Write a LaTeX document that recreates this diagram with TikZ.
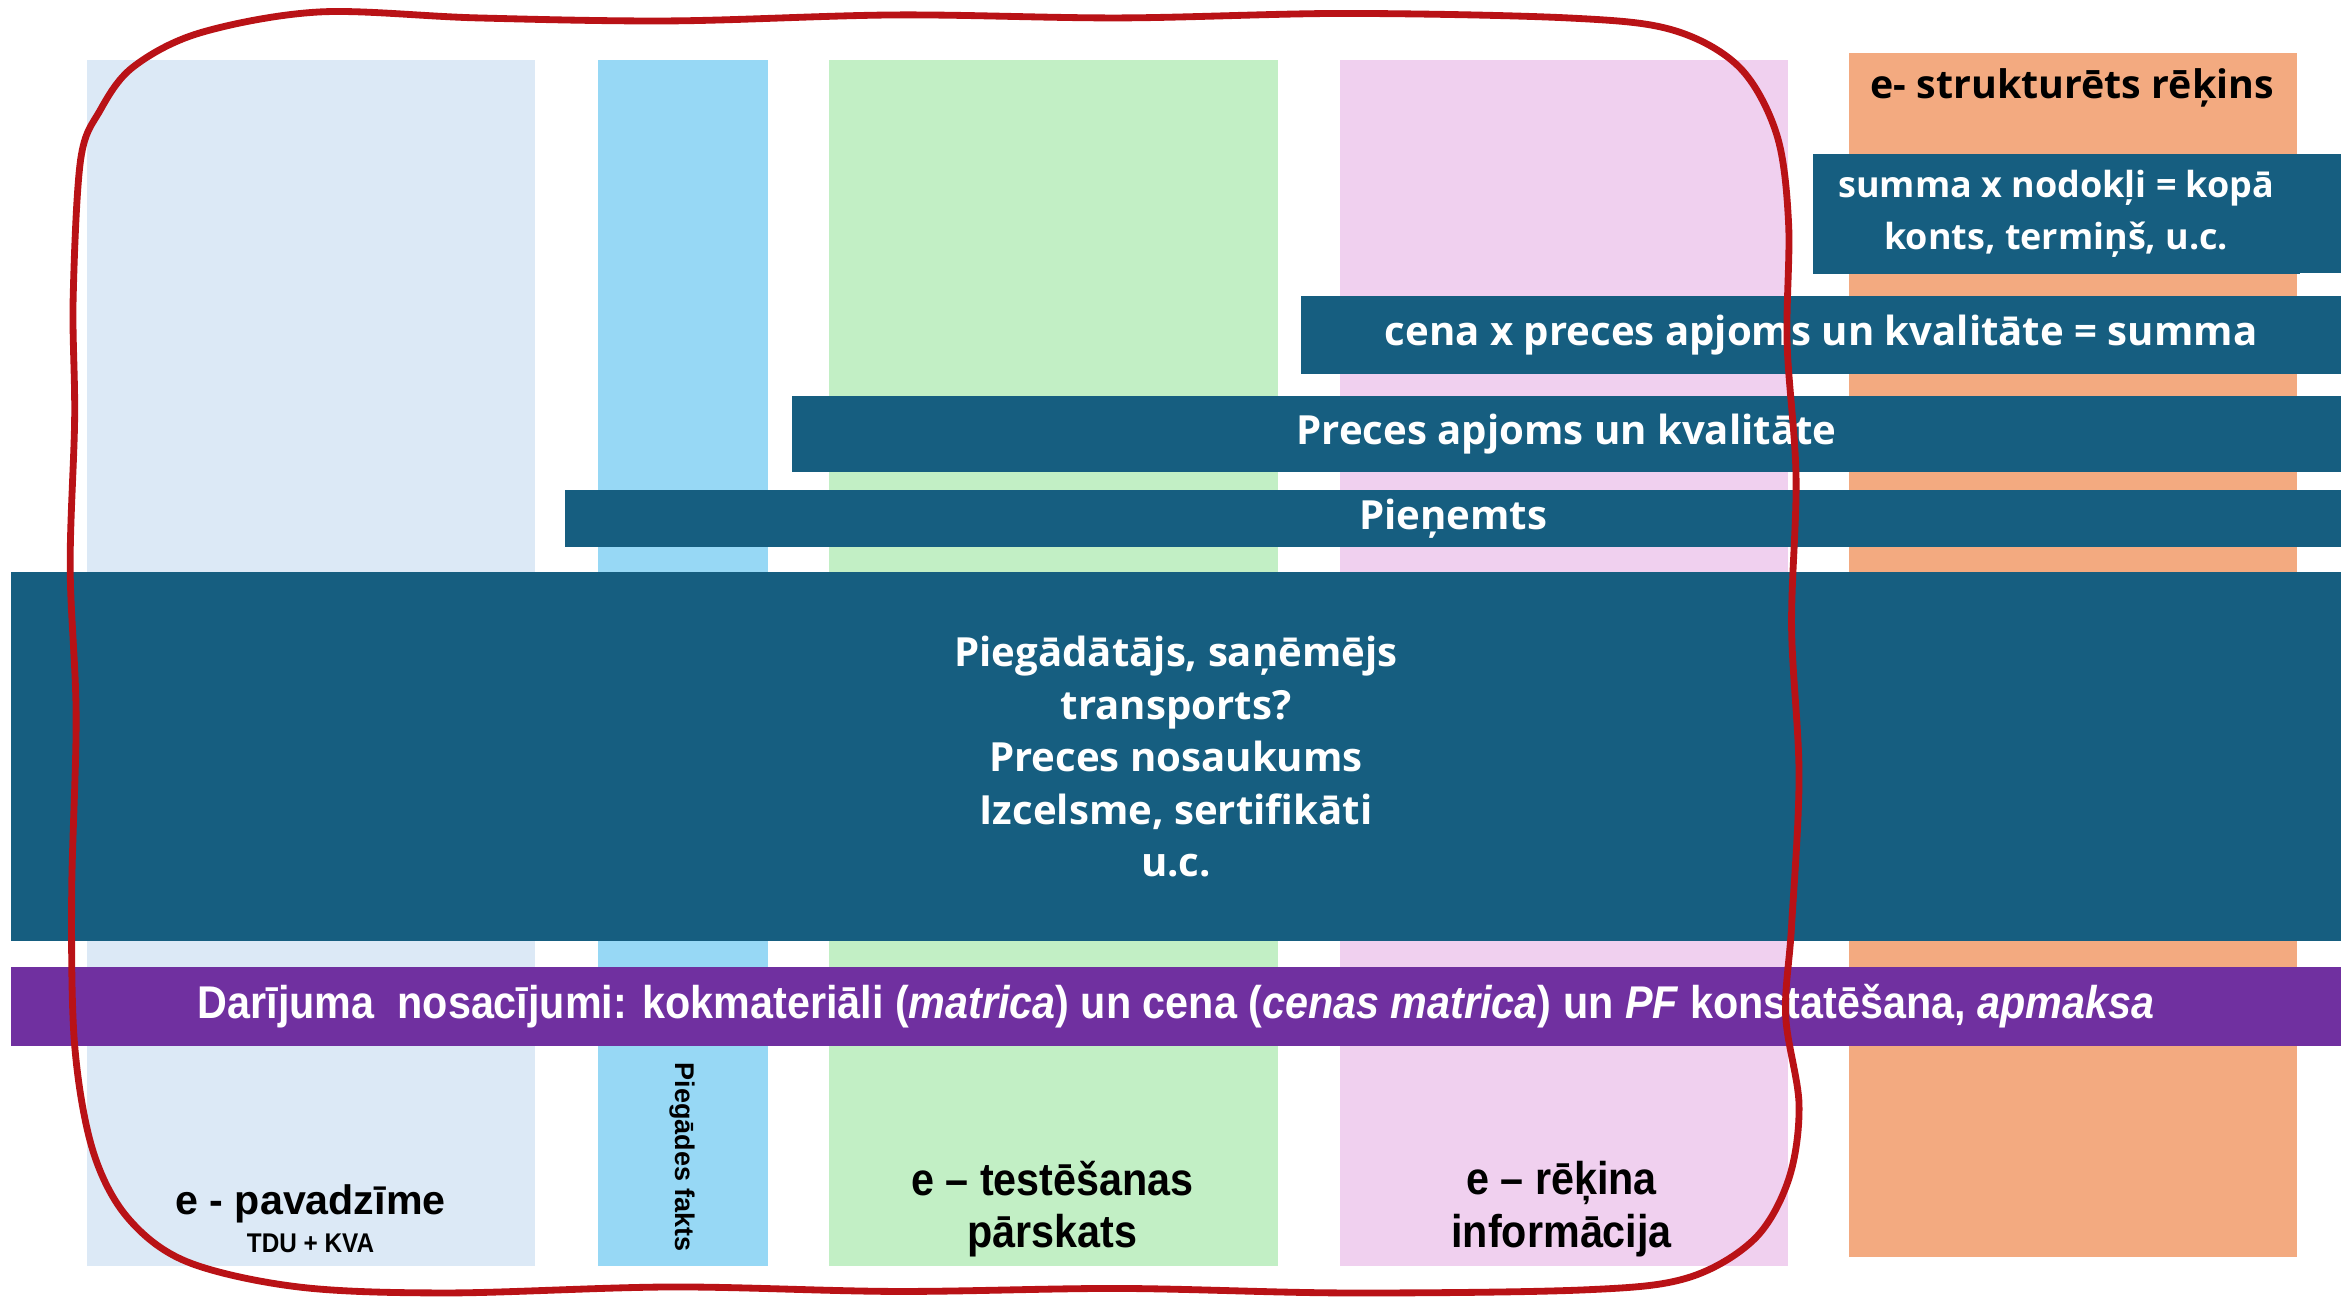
\documentclass[tikz,border=0pt]{standalone}
\usepackage{fontspec}
\setmainfont{Open Sans}
\newfontfamily\narrowfont[FakeStretch=0.9]{Liberation Sans}
\newfontfamily\arialfont{Liberation Sans}
\usetikzlibrary{positioning}
\definecolor{paleblue}{RGB}{220,233,246}
\definecolor{skyblue}{RGB}{151,216,245}
\definecolor{palegreen}{RGB}{194,239,197}
\definecolor{palepink}{RGB}{240,208,239}
\definecolor{salmon}{RGB}{243,170,128}
\definecolor{barteal}{RGB}{22,94,128}
\definecolor{barpurple}{RGB}{112,48,160}
\definecolor{scribble}{RGB}{185,18,22}
\tikzset{
  stripe/.style = {anchor = north west, inner sep = 0pt, minimum width = 6cm, minimum height = 16.16cm},
  band/.style = {anchor = north west, inner sep = 0pt, fill = barteal, text = white, align = center,
    font = \bfseries\fontsize{15.3}{20}\selectfont},
  doctitle/.style = {align = center, font = \narrowfont\bfseries\fontsize{17.5}{20}\selectfont}
}
\begin{document}
\begin{tikzpicture}[x = 0.02cm, y = -0.02cm]
\useasboundingbox[fill = white] (0,0) rectangle (1568,869);
\node[stripe, fill = paleblue] (pavadzime) at (58,40) {};
\node[stripe, fill = skyblue, minimum width = 2.28cm] (fakts) at (400,40) {};
\node[stripe, fill = palegreen, minimum width = 6.02cm] (testesana) at (555,40) {};
\node[stripe, fill = palepink] (rekinainfo) at (897,40) {};
\node[stripe, fill = salmon, minimum height = 16.14cm] (strukturets) at (1238,35) {};
\node[font = \bfseries\fontsize{15}{20}\selectfont] (strukturetsname) at (1388,59) {e- strukturēts rēķins};
\node[band, minimum width = 6.52cm, minimum height = 1.6cm, font = \bfseries\fontsize{13.7}{19.9}\selectfont] (kopa) at (1214,103) {summa x nodokļi = kopā\\konts, termiņš, u.c.};
\fill[barteal] (kopa.north east) rectangle (1568,183);
\node[band, minimum width = 13.94cm, minimum height = 1.04cm] (summa) at (871,198) {cena x preces apjoms un kvalitāte = summa};
\node[band, minimum width = 20.76cm, minimum height = 1.02cm] (apjoms) at (530,265) {Preces apjoms un kvalitāte};
\node[band, minimum width = 23.8cm, minimum height = 0.76cm] (pienemts) at (378,328) {Pieņemts};
\node[band, minimum width = 31.22cm, minimum height = 4.94cm] (puses) at (7,383) {Piegādātājs, saņēmējs\\transports?\\Preces nosaukums\\Izcelsme, sertifikāti\\u.c.};
\node[band, fill = barpurple, minimum width = 31.22cm, minimum height = 1.06cm, font = \narrowfont\bfseries\fontsize{17.5}{20}\selectfont] (nosacijumi) at (7,647) {Darījuma~ nosacījumi: kokmateriāli (\textit{matrica}) un cena (\textit{cenas matrica}) un \textit{PF} konstatēšana, \textit{apmaksa}};
\node[font = \arialfont\bfseries\fontsize{15.7}{18}\selectfont] (pavadzimename) at (208,806) {e - pavadzīme};
\node[font = \narrowfont\bfseries\fontsize{10.3}{11}\selectfont] (tdu) at (208,833) {TDU + KVA};
\node[rotate = -90, font = \arialfont\bfseries\fontsize{10.3}{11}\selectfont] (faktsname) at (457,775) {Piegādes fakts};
\node[doctitle] (testesananame) at (705,810) {e – testēšanas\\pārskats};
\node[doctitle] (rekinainfoname) at (1046,810) {e – rēķina\\informācija};
\draw[scribble, line width = 2.6pt, line cap = round] plot[smooth cycle, tension = 0.55] coordinates {
  (214,8) (320,12) (450,14) (600,10) (750,12) (900,9) (1050,12) (1120,20) (1165,45) (1190,90)
  (1198,150) (1197,230) (1203,320) (1200,420) (1205,520) (1200,620) (1196,680) (1205,740)
  (1198,790) (1175,830) (1130,856) (1060,864) (900,866) (750,863) (600,865) (450,862) (300,866)
  (200,862) (125,845) (85,815) (62,770) (50,700) (48,600) (51,480) (47,380) (50,280) (49,200)
  (54,107) (67,74) (89,45) (134,22)};
\end{tikzpicture}
\end{document}
